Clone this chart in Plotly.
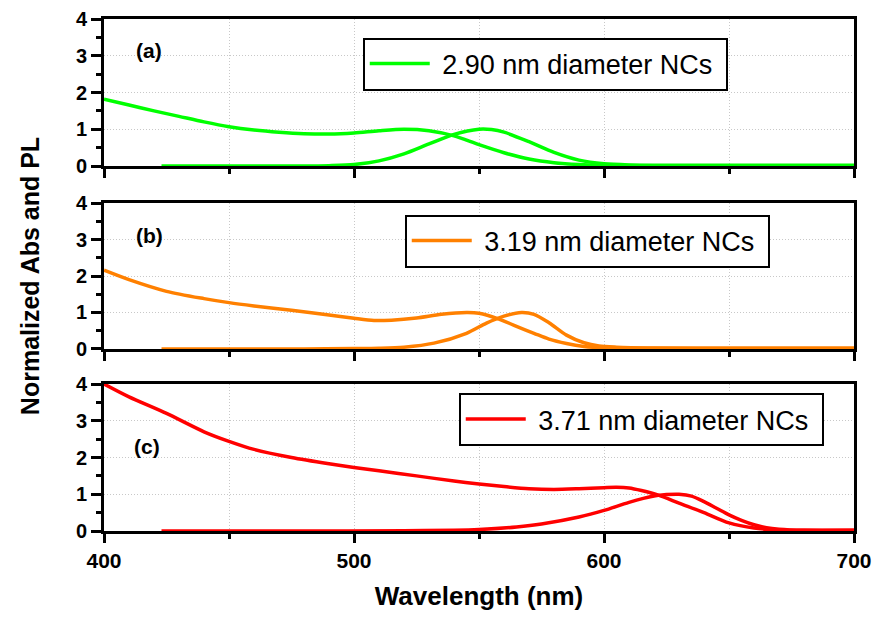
import plotly.graph_objects as go

# ---------------- data ----------------
sizes = ["2.90 nm diameter NCs", "3.19 nm diameter NCs", "3.71 nm diameter NCs"]
panel_labels = ["(a)", "(b)", "(c)"]
colors = ["#00FF00", "#FF8000", "#FF0000"]

wl_abs_a = [400, 410, 420, 430, 440, 450, 460, 470, 480, 490, 500, 510, 520, 530, 540,
            550, 560, 570, 580, 590, 600, 620, 650, 700]
abs_a = [1.82, 1.66, 1.50, 1.35, 1.20, 1.07, 0.98, 0.92, 0.88, 0.87, 0.90, 0.96, 1.00, 0.96, 0.82,
         0.58, 0.36, 0.19, 0.09, 0.04, 0.02, 0.01, 0.01, 0.01]
wl_pl_a = [423, 450, 480, 490, 500, 510, 520, 530, 540, 550, 555, 560, 570, 580, 590,
           600, 610, 630, 660, 700]
pl_a = [0.0, 0.0, 0.0, 0.01, 0.04, 0.14, 0.33, 0.60, 0.86, 1.00, 0.99, 0.92, 0.66, 0.37, 0.16,
        0.06, 0.03, 0.02, 0.02, 0.02]

wl_abs_b = [400, 410, 425, 440, 450, 460, 475, 490, 500, 508, 515, 525, 535, 545, 550,
            558, 565, 572, 578, 585, 592, 600, 620, 650, 700]
abs_b = [2.16, 1.90, 1.58, 1.38, 1.27, 1.18, 1.06, 0.93, 0.84, 0.78, 0.79, 0.85, 0.95, 1.00, 0.98,
         0.82, 0.62, 0.43, 0.27, 0.15, 0.07, 0.03, 0.02, 0.02, 0.02]
wl_pl_b = [423, 450, 480, 500, 510, 520, 532, 545, 553, 560, 567, 572, 578, 585, 592,
           598, 605, 620, 650, 700]
pl_b = [0.0, 0.0, 0.0, 0.01, 0.02, 0.05, 0.16, 0.43, 0.71, 0.90, 1.00, 0.95, 0.72, 0.38, 0.17,
        0.08, 0.05, 0.03, 0.02, 0.02]

wl_abs_c = [400, 410, 425, 440, 450, 460, 475, 490, 500, 510, 525, 540, 550, 560, 570,
            580, 590, 600, 605, 610, 615, 622, 630, 640, 650, 660, 670, 680, 700]
abs_c = [4.00, 3.65, 3.20, 2.70, 2.44, 2.22, 2.00, 1.83, 1.73, 1.64, 1.50, 1.36, 1.28, 1.21, 1.15,
         1.13, 1.15, 1.18, 1.19, 1.17, 1.10, 0.97, 0.76, 0.50, 0.22, 0.08, 0.03, 0.02, 0.02]
wl_pl_c = [423, 480, 520, 540, 550, 565, 575, 590, 600, 610, 620, 625, 630, 635, 640,
           645, 650, 655, 660, 665, 670, 680, 700]
pl_c = [0.0, 0.0, 0.01, 0.02, 0.04, 0.11, 0.19, 0.38, 0.56, 0.78, 0.95, 0.99, 1.00, 0.95, 0.80,
        0.62, 0.44, 0.29, 0.17, 0.09, 0.05, 0.02, 0.02]

x_range = [400, 700]
y_range = [0, 4]
x_title = "Wavelength (nm)"
y_title = "Normalized Abs and PL"

# ---------------- figure ----------------
FONT = "Liberation Sans, Arial, Helvetica, sans-serif"
GRID = "#c8c8c8"
abs_sets = [(wl_abs_a, abs_a), (wl_abs_b, abs_b), (wl_abs_c, abs_c)]
pl_sets = [(wl_pl_a, pl_a), (wl_pl_b, pl_b), (wl_pl_c, pl_c)]
domains = [[0.7129, 1.0], [0.3555, 0.6406], [0.0, 0.2871]]
legend_pos = [(0.345, 0.9121), (0.401, 0.5664), (0.473, 0.2178)]
label_pos = [(418, 3.13), (418, 3.12), (417, 2.29)]

fig = go.Figure()
for i in range(3):
    xa = "x" if i == 0 else f"x{i+1}"
    ya = "y" if i == 0 else f"y{i+1}"
    lg = "legend" if i == 0 else f"legend{i+1}"
    fig.add_trace(go.Scatter(
        x=abs_sets[i][0], y=abs_sets[i][1], mode="lines",
        name="\u00a0" + sizes[i] + "\u00a0",
        line=dict(color=colors[i], width=3.5, shape="spline", smoothing=0.8),
        xaxis=xa, yaxis=ya, legend=lg, showlegend=True))
    fig.add_trace(go.Scatter(
        x=pl_sets[i][0], y=pl_sets[i][1], mode="lines", name=sizes[i] + " PL",
        line=dict(color=colors[i], width=3.5, shape="spline", smoothing=0.8),
        xaxis=xa, yaxis=ya, legend=lg, showlegend=False))

layout = dict(
    template="none",
    width=874, height=617,
    margin=dict(l=104, r=20, t=19, b=86, autoexpand=False),
    paper_bgcolor="white", plot_bgcolor="white",
    font=dict(family=FONT, color="black"),
    annotations=[],
)

for i in range(3):
    xk = "xaxis" if i == 0 else f"xaxis{i+1}"
    yk = "yaxis" if i == 0 else f"yaxis{i+1}"
    ya = "y" if i == 0 else f"y{i+1}"
    xa = "x" if i == 0 else f"x{i+1}"
    layout[xk] = dict(
        range=x_range, domain=[0, 1], anchor=ya, automargin=False,
        dtick=100, tick0=400, ticks="outside", ticklen=9, tickwidth=3, tickcolor="black",
        showticklabels=(i == 2),
        tickfont=dict(size=21, family=FONT, weight="bold", color="black"),
        showline=True, linewidth=3, linecolor="black", mirror=True,
        showgrid=True, gridcolor=GRID, gridwidth=1, griddash="1px,2px",
        zeroline=False, layer="below traces",
        minor=dict(dtick=50, ticks="outside", ticklen=5, tickwidth=3, tickcolor="black",
                   showgrid=True, gridcolor=GRID, gridwidth=1, griddash="1px,2px"),
    )
    if i != 0:
        layout[xk]["matches"] = "x"
    if i == 2:
        layout[xk]["title"] = dict(text=x_title,
                                   font=dict(size=26, family=FONT, weight="bold", color="black"),
                                   standoff=16)
    layout[yk] = dict(
        range=y_range, domain=domains[i], anchor=xa, automargin=False,
        dtick=1, tick0=0, ticks="outside", ticklen=10, tickwidth=3, tickcolor="black",
        tickfont=dict(size=20, family=FONT, weight="bold", color="black"),
        showline=True, linewidth=3, linecolor="black", mirror=True,
        showgrid=True, gridcolor=GRID, gridwidth=1, griddash="1px,2px",
        zeroline=False, layer="below traces",
        minor=dict(dtick=0.5, ticks="outside", ticklen=5, tickwidth=3, tickcolor="black",
                   showgrid=False),
    )
    if i == 1:
        layout[yk]["title"] = dict(text=y_title,
                                   font=dict(size=25, family=FONT, weight="bold", color="black"),
                                   standoff=30)
    lk = "legend" if i == 0 else f"legend{i+1}"
    layout[lk] = dict(
        x=legend_pos[i][0], y=legend_pos[i][1], xanchor="left", yanchor="middle",
        xref="paper", yref="paper",
        bordercolor="black", borderwidth=2, bgcolor="white",
        font=dict(size=27, family=FONT, color="black"),
        itemwidth=60,
    )
    layout["annotations"].append(dict(
        x=label_pos[i][0], y=label_pos[i][1], xref=xa, yref=ya,
        text=panel_labels[i], showarrow=False,
        font=dict(size=21, family=FONT, weight="bold", color="black"),
    ))

fig.update_layout(**layout)
# remove the default 8px page margin so the 874x617 figure fills the window exactly
fig.write_html("out.html", config={"displayModeBar": False},
               post_script="document.body.style.margin='0px';")
